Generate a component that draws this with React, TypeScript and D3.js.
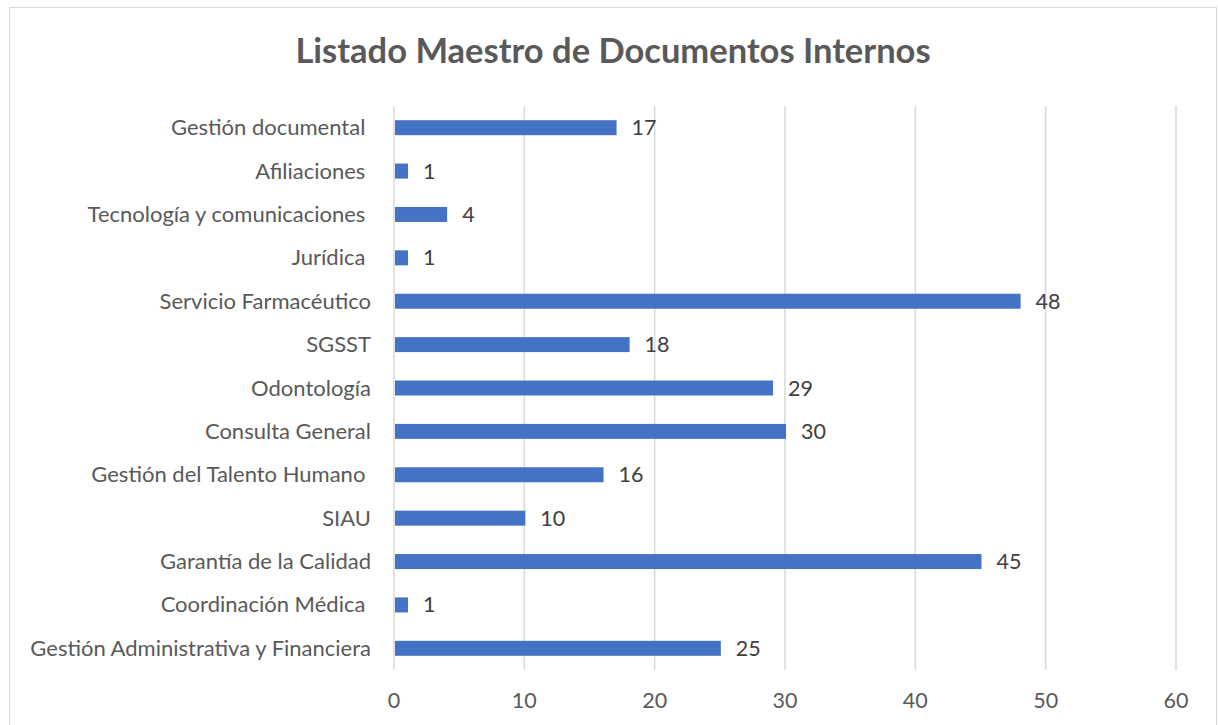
import React, { useEffect, useRef } from "react";
import * as d3 from "d3";

const title = "Listado Maestro de Documentos Internos";

// top to bottom, as in the picture (trailing spaces kept)
const categories = [
  "Gestión documental ",
  "Afiliaciones ",
  "Tecnología y comunicaciones ",
  "Jurídica ",
  "Servicio Farmacéutico",
  "SGSST",
  "Odontología",
  "Consulta General",
  "Gestión del Talento Humano ",
  "SIAU",
  "Garantía de la Calidad",
  "Coordinación Médica ",
  "Gestión Administrativa y Financiera",
];
const values = [17, 1, 4, 1, 48, 18, 29, 30, 16, 10, 45, 1, 25];
const xTicks = [0, 10, 20, 30, 40, 50, 60];

const App = () => {
  const ref = useRef<SVGSVGElement>(null);

  useEffect(() => {
    const svg = d3.select(ref.current);
    svg.selectAll("*").remove();

    const plot = { left: 394, right: 1176, top: 106, bottom: 670 };
    const font = "Lato, 'Open Sans', sans-serif";

    // chart border
    svg.append("rect")
      .attr("x", 9.5).attr("y", 7.5)
      .attr("width", 1207).attr("height", 740)
      .attr("fill", "#fff")
      .attr("stroke", "#d9d9d9")
      .attr("stroke-width", 1);

    const x = d3.scaleLinear().domain([0, 60]).range([plot.left, plot.right]);
    const y = d3.scaleBand()
      .domain(categories)
      .range([plot.top, plot.bottom])
      .paddingInner(0.655)
      .paddingOuter(0.3275);

    // gridlines
    svg.append("g")
      .selectAll("line")
      .data(xTicks)
      .join("line")
      .attr("x1", (d) => x(d)).attr("x2", (d) => x(d))
      .attr("y1", plot.top).attr("y2", plot.bottom)
      .attr("stroke", "#d9d9d9")
      .attr("stroke-width", 1.5);

    // title
    svg.append("text")
      .attr("x", 613).attr("y", 63)
      .attr("text-anchor", "middle")
      .attr("font-family", font)
      .attr("font-weight", "bold")
      .attr("font-size", 34.5)
      .attr("fill", "#595959")
      .text(title);

    // bars
    svg.append("g")
      .selectAll("rect")
      .data(values)
      .join("rect")
      .attr("x", x(0) + 1)
      .attr("y", (d, i) => y(categories[i]))
      .attr("width", (d) => x(d) - x(0))
      .attr("height", y.bandwidth())
      .attr("fill", "#4472C4");

    // value labels
    svg.append("g")
      .selectAll("text")
      .data(values)
      .join("text")
      .attr("x", (d) => x(d) + 16)
      .attr("y", (d, i) => y(categories[i]) + y.bandwidth() / 2 + 7.5)
      .attr("font-family", font)
      .attr("font-size", 21.5)
      .attr("fill", "#404040")
      .text((d) => d);

    // category labels
    svg.append("g")
      .selectAll("text")
      .data(categories)
      .join("text")
      .attr("x", 371)
      .attr("y", (d) => y(d) + y.bandwidth() / 2 + 7.5)
      .attr("text-anchor", "end")
      .attr("font-family", font)
      .attr("font-size", 22)
      .attr("fill", "#595959")
      .style("white-space", "pre")
      .text((d) => d);

    // x tick labels
    svg.append("g")
      .selectAll("text")
      .data(xTicks)
      .join("text")
      .attr("x", (d) => x(d))
      .attr("y", 708)
      .attr("text-anchor", "middle")
      .attr("font-family", font)
      .attr("font-size", 21.5)
      .attr("fill", "#595959")
      .text((d) => d);
  }, []);

  return (
    <svg
      ref={ref}
      width={1218}
      height={725}
      style={{ position: "absolute", left: 0, top: 0, background: "#fff" }}
    />
  );
};

export default App;
